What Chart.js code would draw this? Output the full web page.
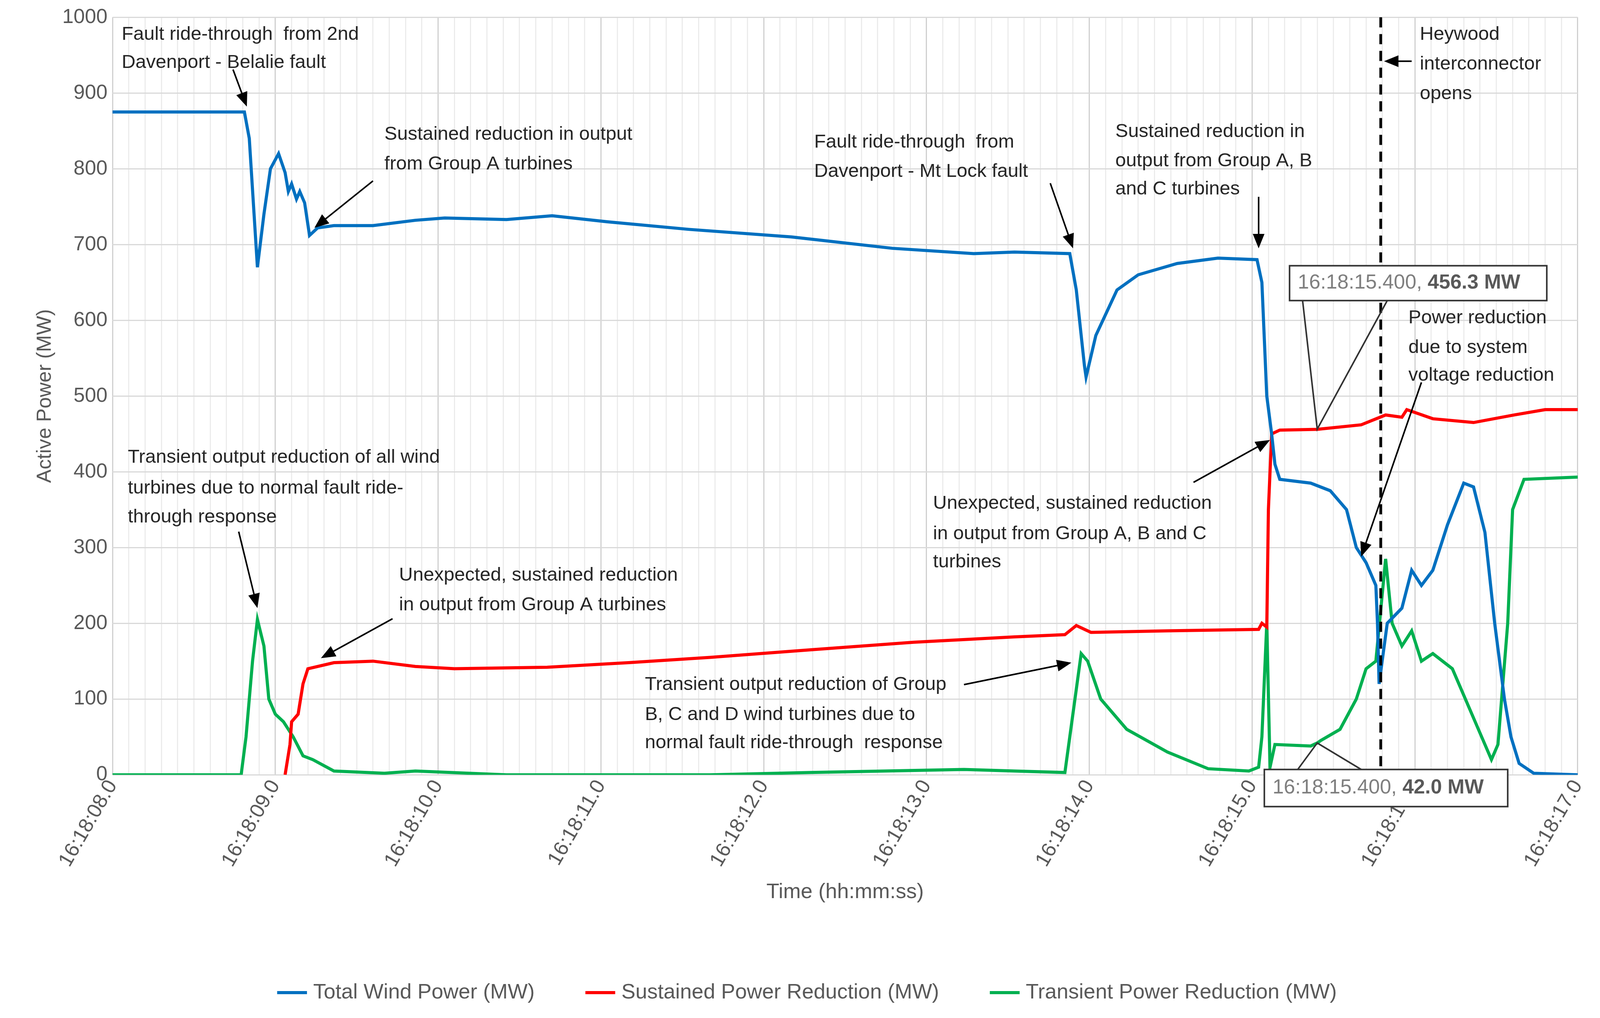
<!DOCTYPE html>
<html><head><meta charset="utf-8">
<script src="https://cdn.jsdelivr.net/npm/chart.js@4"></script>
<style>html,body{margin:0;padding:0;background:#fff;overflow:hidden}#w{position:fixed;left:0;top:0;width:100vw;height:100vh}</style>
</head><body><div id="w"><canvas id="c"></canvas></div>
<script>
// time in seconds after 16:18:08
const blueT=[0,0.81,0.84,0.89,0.93,0.97,1.02,1.06,1.08,1.1,1.13,1.15,1.18,1.21,1.26,1.36,1.6,1.86,2.04,2.42,2.7,3.04,3.54,4.17,4.79,5.29,5.54,5.88,5.92,5.97,5.98,6.04,6.17,6.3,6.54,6.79,7.03,7.06,7.09,7.12,7.14,7.17,7.36,7.48,7.58,7.64,7.7,7.76,7.77,7.78,7.83,7.92,7.98,8.04,8.11,8.2,8.3,8.36,8.43,8.49,8.55,8.59,8.64,8.73,9];
const blueV=[875,875,840,670,740,800,820,795,770,780,760,770,755,712,722,725,725,732,735,733,738,730,720,710,695,688,690,688,640,540,525,580,640,660,675,682,680,650,500,450,410,390,385,375,350,300,280,250,200,120,200,220,270,250,270,330,385,380,320,200,100,50,15,2,0];
const redT=[1.06,1.09,1.1,1.14,1.17,1.2,1.36,1.6,1.86,2.1,2.67,3.17,3.67,4.29,4.92,5.54,5.85,5.92,6.01,6.48,7.04,7.06,7.09,7.1,7.12,7.17,7.4,7.67,7.82,7.92,7.95,8.11,8.36,8.61,8.8,9];
const redV=[0,40,70,80,120,140,148,150,143,140,142,148,155,165,175,182,185,197,188,190,192,200,195,350,450,455,456,462,475,472,482,470,465,475,482,482];
const greenT=[0,0.79,0.82,0.86,0.89,0.93,0.96,1.0,1.05,1.11,1.17,1.23,1.36,1.67,1.86,2.42,3.67,4.29,5.23,5.54,5.85,5.95,5.99,6.07,6.23,6.48,6.73,6.98,7.04,7.06,7.09,7.11,7.14,7.36,7.4,7.42,7.54,7.64,7.7,7.76,7.82,7.86,7.92,7.98,8.04,8.11,8.23,8.39,8.47,8.51,8.57,8.6,8.67,9];
const greenV=[0,0,50,150,205,170,100,80,70,50,25,20,5,2,5,0,0,3,7,5,3,160,150,100,60,30,8,5,10,50,200,10,40,38,42,45,60,100,140,150,285,200,170,190,150,160,140,60,20,40,200,350,390,393];
const tickLabels=['16:18:08.0','16:18:09.0','16:18:10.0','16:18:11.0','16:18:12.0','16:18:13.0','16:18:14.0','16:18:15.0','16:18:16.0','16:18:17.0'];
const eventT=7.79;

const notes=[
 {t:0.056,v:[977,940],s:['Fault ride-through  from 2nd','Davenport - Belalie fault'],a:[0.74,931,0.825,882]},
 {t:1.67,v:[845,806],s:['Sustained reduction in output','from Group A turbines'],a:[1.6,784,1.24,722]},
 {t:4.31,v:[835,796],s:['Fault ride-through  from','Davenport - Mt Lock fault'],a:[5.76,781,5.9,695]},
 {t:6.16,v:[849,810,773],s:['Sustained reduction in','output from Group A, B','and C turbines'],a:[7.04,763,7.04,695]},
 {t:8.03,v:[977,938,899],s:['Heywood','interconnector','opens'],a:[7.98,942,7.81,942]},
 {t:7.96,v:[603,564,527],s:['Power reduction','due to system','voltage reduction'],a:[8.04,518,7.67,288]},
 {t:0.094,v:[419,378,340],s:['Transient output reduction of all wind','turbines due to normal fault ride-','through response'],a:[0.775,321,0.89,220]},
 {t:1.76,v:[263,224],s:['Unexpected, sustained reduction','in output from Group A turbines'],a:[1.72,206,1.28,154]},
 {t:5.04,v:[358,318,281],s:['Unexpected, sustained reduction','in output from Group A, B and C','turbines'],a:[6.64,386,7.11,442]},
 {t:3.27,v:[119,79,42],s:['Transient output reduction of Group','B, C and D wind turbines due to','normal fault ride-through  response'],a:[5.23,119,5.89,148]}
];
const callouts=[
 {box:[7.23,672,8.81,626],pt:[7.4,456.3],l:[7.31,7.83],txt:'16:18:15.400, ',bold:'456.3 MW'},
 {box:[7.075,7,8.57,-42],pt:[7.4,42],l:[7.28,7.67],txt:'16:18:15.400, ',bold:'42.0 MW'}
];
const F='"Liberation Sans", Arial, sans-serif';
const W0=window.innerWidth, S=W0/4370;
const px=n=>Math.round(n*S);
const annot={id:'annot',afterDatasetsDraw(ch){
 const c=ch.ctx,x=ch.scales.x,y=ch.scales.y;
 const X=t=>x.getPixelForValue(t),Y=v=>y.getPixelForValue(v);
 c.save();
 c.strokeStyle='#000';c.lineWidth=px(7);c.setLineDash([px(28),px(18)]);
 c.beginPath();c.moveTo(X(eventT),Y(1000));c.lineTo(X(eventT),Y(0));c.stroke();c.setLineDash([]);
 c.font=px(52)+'px '+F;c.fillStyle='#262626';c.textBaseline='middle';c.textAlign='left';
 for(const n of notes){
  n.s.forEach((s,i)=>c.fillText(s,X(n.t),Y(n.v[i])));
  const x1=X(n.a[0]),y1=Y(n.a[1]),x2=X(n.a[2]),y2=Y(n.a[3]);
  const ang=Math.atan2(y2-y1,x2-x1),L=px(40),W=px(16);
  c.strokeStyle='#000';c.lineWidth=px(4);c.beginPath();c.moveTo(x1,y1);
  c.lineTo(x2-Math.cos(ang)*L*0.8,y2-Math.sin(ang)*L*0.8);c.stroke();
  c.fillStyle='#000';c.beginPath();c.moveTo(x2,y2);
  c.lineTo(x2-L*Math.cos(ang)+W*Math.sin(ang),y2-L*Math.sin(ang)-W*Math.cos(ang));
  c.lineTo(x2-L*Math.cos(ang)-W*Math.sin(ang),y2-L*Math.sin(ang)+W*Math.cos(ang));
  c.closePath();c.fill();c.fillStyle='#262626';
 }
 for(const b of callouts){
  const x1=X(b.box[0]),y1=Y(b.box[1]),x2=X(b.box[2]),y2=Y(b.box[3]);
  const attach=b.pt[1]<b.box[1]?y2:y1;
  c.strokeStyle='#333';c.lineWidth=px(4);
  c.beginPath();c.moveTo(X(b.l[0]),attach);c.lineTo(X(b.pt[0]),Y(b.pt[1]));c.lineTo(X(b.l[1]),attach);c.stroke();
  c.fillStyle='#fff';c.fillRect(x1,y1,x2-x1,y2-y1);c.strokeRect(x1,y1,x2-x1,y2-y1);
  c.textAlign='left';c.font=px(56)+'px '+F;c.fillStyle='#7f7f7f';
  const mid=(y1+y2)/2;c.fillText(b.txt,x1+px(22),mid);
  const w=c.measureText(b.txt).width;c.font='bold '+px(56)+'px '+F;c.fillStyle='#595959';c.fillText(b.bold,x1+px(22)+w,mid);
 }
 c.restore();
}};
const mk=(T,V)=>T.map((t,i)=>({x:t,y:V[i]}));
const LW=px(9);
new Chart(document.getElementById('c'),{type:'line',
 data:{datasets:[
  {label:'Total Wind Power (MW)',data:mk(blueT,blueV),borderColor:'#0070C0',backgroundColor:'#0070C0',borderWidth:LW},
  {label:'Sustained Power Reduction (MW)',data:mk(redT,redV),borderColor:'#FF0000',backgroundColor:'#FF0000',borderWidth:LW},
  {label:'Transient Power Reduction (MW)',data:mk(greenT,greenV),borderColor:'#00B050',backgroundColor:'#00B050',borderWidth:LW}]},
 options:{responsive:true,maintainAspectRatio:false,animation:false,
  elements:{point:{radius:0},line:{tension:0}},
  layout:{padding:{left:px(90),right:px(40),top:px(40),bottom:px(30)}},
  plugins:{tooltip:{enabled:false},
   legend:{position:'bottom',labels:{usePointStyle:true,pointStyle:'line',boxWidth:px(120),padding:px(150),font:{size:px(58),family:F},color:'#595959'}}},
  scales:{
   x:{type:'linear',min:0,max:9,
     afterBuildTicks(s){s.ticks=[];for(let i=0;i<=90;i++)s.ticks.push({value:i/10});},
     ticks:{autoSkip:false,maxRotation:60,minRotation:60,font:{size:px(56),family:F},color:'#595959',
       callback:(v)=>{const r=Math.round(v*10);return r%10===0?tickLabels[r/10]:'';}},
     grid:{color:(ctx)=>{const r=Math.round(ctx.tick.value*10);return r%10===0?'#d0d0d0':'#ececec';},lineWidth:px(3),drawTicks:false},
     border:{display:false},
     title:{display:true,text:'Time (hh:mm:ss)',font:{size:px(58),family:F},color:'#595959',padding:{top:px(20),bottom:px(60)}}},
   y:{min:0,max:1000,ticks:{stepSize:100,font:{size:px(56),family:F},color:'#595959',padding:px(14),callback:v=>String(v)},
     grid:{color:'#d9d9d9',lineWidth:px(3),drawTicks:false},border:{display:false},
     title:{display:true,text:'Active Power (MW)',font:{size:px(56),family:F},color:'#595959',padding:0}}
  }},
 plugins:[annot]});
</script></body></html>
